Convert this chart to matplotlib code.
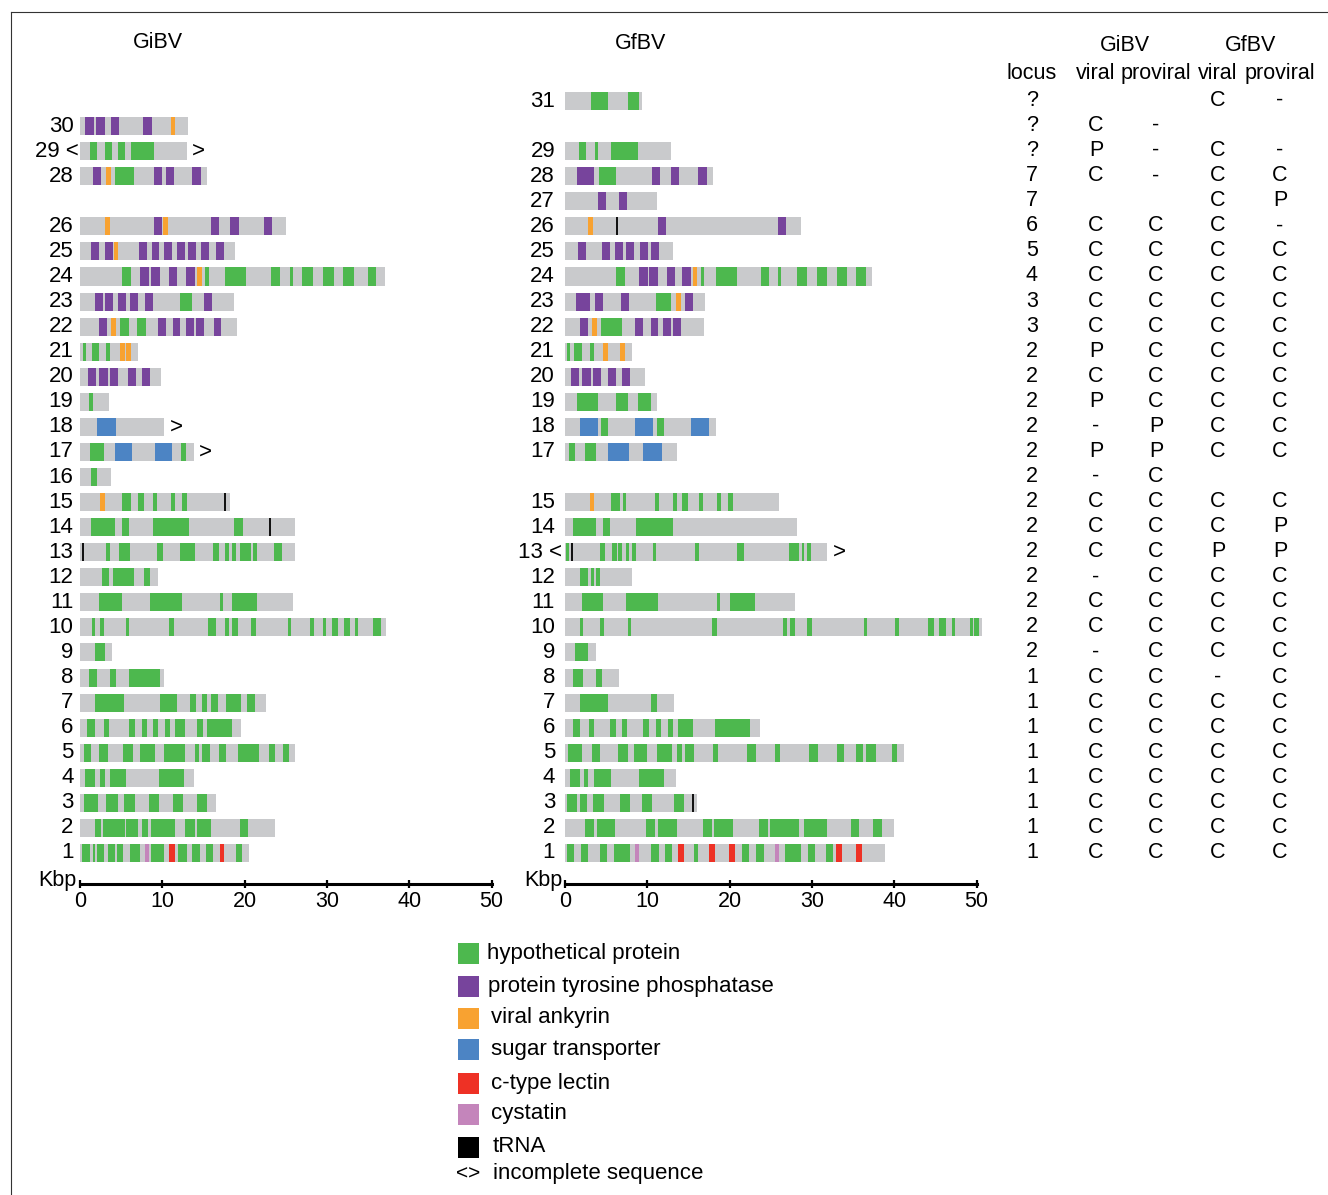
import matplotlib
matplotlib.use('Agg')
import matplotlib.pyplot as plt
from matplotlib.patches import Rectangle
import matplotlib.transforms as mtransforms

plt.rcParams['font.family'] = ['Liberation Sans', 'DejaVu Sans']

W, H = 1328, 1195
DPI = 100

# ---------------- colours / legend ----------------
GREY = '#C9CACC'
COLORS = {'H': '#4DB84E', 'P': '#77449C', 'A': '#F8A231', 'S': '#4C84C4',
          'L': '#EE3125', 'C': '#C485BB', 'T': '#000000'}
legend_codes = ['H', 'P', 'A', 'S', 'L', 'C', 'T']
legend_labels = ['hypothetical protein', 'protein tyrosine phosphatase', 'viral ankyrin',
                 'sugar transporter', 'c-type lectin', 'cystatin', 'tRNA']

# ---------------- GiBV segments (kbp) ----------------
gi_length = {30: 13.1, 29: 12.95, 28: 15.4, 26: 25.0, 25: 18.8, 24: 37.0, 23: 18.7,
             22: 19.1, 21: 7.0, 20: 9.8, 19: 3.5, 18: 10.2, 17: 13.8, 16: 3.8,
             15: 18.2, 14: 26.1, 13: 26.1, 12: 9.5, 11: 25.9, 10: 37.2, 9: 3.9,
             8: 10.2, 7: 22.6, 6: 19.6, 5: 26.1, 4: 13.85, 3: 16.5, 2: 23.7, 1: 20.5}
gi_genes = {
    30: [(0.6, 1.7, 'P'), (1.9, 3.0, 'P'), (3.8, 4.7, 'P'), (7.7, 8.7, 'P'), (11.1, 11.6, 'A')],
    29: [(1.2, 2.1, 'H'), (3.0, 3.9, 'H'), (4.6, 5.5, 'H'), (6.2, 9.0, 'H')],
    28: [(1.6, 2.6, 'P'), (3.2, 3.8, 'A'), (4.3, 6.6, 'H'), (9.0, 10.0, 'P'), (10.4, 11.4, 'P'),
         (13.6, 14.7, 'P')],
    26: [(3.0, 3.6, 'A'), (9.0, 10.0, 'P'), (10.1, 10.7, 'A'), (15.9, 16.9, 'P'), (18.2, 19.3, 'P'),
         (22.3, 23.3, 'P')],
    25: [(1.3, 2.3, 'P'), (3.0, 4.0, 'P'), (4.1, 4.6, 'A'), (7.2, 8.1, 'P'), (8.7, 9.6, 'P'),
         (10.2, 11.2, 'P'), (11.8, 12.8, 'P'), (13.1, 14.1, 'P'), (14.7, 15.7, 'P'), (16.5, 17.5, 'P')],
    24: [(5.1, 6.2, 'H'), (7.3, 8.4, 'P'), (8.6, 9.7, 'P'), (10.8, 11.8, 'P'), (12.9, 14.0, 'P'),
         (14.2, 14.8, 'A'), (15.2, 15.7, 'H'), (17.6, 20.2, 'H'), (23.2, 24.3, 'H'), (25.5, 25.9, 'H'),
         (27.0, 28.3, 'H'), (29.5, 30.9, 'H'), (31.9, 33.3, 'H'), (35.0, 36.0, 'H')],
    23: [(1.8, 2.8, 'P'), (3.0, 4.0, 'P'), (4.6, 5.6, 'P'), (6.1, 7.0, 'P'), (7.9, 8.9, 'P'),
         (12.1, 13.6, 'H'), (15.1, 16.0, 'P')],
    22: [(2.3, 3.3, 'P'), (3.8, 4.4, 'A'), (4.9, 6.0, 'H'), (6.9, 8.0, 'H'), (9.5, 10.4, 'P'),
         (11.3, 12.1, 'P'), (12.9, 13.8, 'P'), (14.1, 15.1, 'P'), (16.3, 17.1, 'P')],
    21: [(0.4, 0.7, 'H'), (1.5, 2.3, 'H'), (3.2, 3.6, 'H'), (4.9, 5.5, 'A'), (5.6, 6.2, 'A')],
    20: [(1.0, 1.9, 'P'), (2.3, 3.4, 'P'), (3.6, 4.6, 'P'), (5.8, 6.8, 'P'), (7.5, 8.5, 'P')],
    19: [(1.1, 1.6, 'H')],
    18: [(2.1, 4.4, 'S')],
    17: [(1.2, 2.9, 'H'), (4.3, 6.3, 'S'), (9.1, 11.2, 'S'), (12.3, 12.9, 'H')],
    16: [(1.3, 2.1, 'H')],
    15: [(2.4, 3.0, 'A'), (5.1, 6.2, 'H'), (7.0, 7.8, 'H'), (8.9, 9.4, 'H'), (11.1, 11.5, 'H'),
         (12.4, 13.0, 'H')],
    14: [(1.3, 4.3, 'H'), (5.1, 6.0, 'H'), (8.9, 13.2, 'H'), (18.7, 19.8, 'H')],
    13: [(3.2, 3.6, 'H'), (4.7, 6.1, 'H'), (9.4, 10.1, 'H'), (12.1, 14.0, 'H'), (16.2, 16.9, 'H'),
         (17.6, 18.1, 'H'), (18.5, 18.9, 'H'), (19.4, 20.8, 'H'), (21.0, 21.5, 'H'), (23.6, 24.5, 'H')],
    12: [(2.7, 3.5, 'H'), (4.0, 6.6, 'H'), (7.8, 8.5, 'H')],
    11: [(2.3, 5.1, 'H'), (8.5, 12.4, 'H'), (17.0, 17.4, 'H'), (18.5, 21.5, 'H')],
    10: [(1.5, 1.8, 'H'), (2.4, 2.9, 'H'), (5.6, 6.0, 'H'), (10.8, 11.4, 'H'), (15.5, 16.5, 'H'),
         (17.6, 18.1, 'H'), (18.5, 19.2, 'H'), (20.8, 21.4, 'H'), (25.3, 25.6, 'H'), (27.9, 28.4, 'H'),
         (29.5, 29.9, 'H'), (30.6, 31.3, 'H'), (32.1, 32.8, 'H'), (33.4, 33.8, 'H'), (35.6, 36.6, 'H')],
    9: [(1.8, 3.0, 'H')],
    8: [(1.1, 2.1, 'H'), (3.6, 4.4, 'H'), (6.0, 9.7, 'H')],
    7: [(1.8, 5.3, 'H'), (9.7, 11.8, 'H'), (13.4, 14.1, 'H'), (14.8, 15.4, 'H'), (15.9, 16.8, 'H'),
        (17.7, 19.6, 'H'), (20.3, 21.3, 'H')],
    6: [(0.85, 1.8, 'H'), (2.9, 3.5, 'H'), (6.0, 6.7, 'H'), (7.5, 8.1, 'H'), (8.9, 9.5, 'H'),
        (10.3, 10.9, 'H'), (11.5, 12.8, 'H'), (14.2, 14.9, 'H'), (15.4, 18.5, 'H')],
    5: [(0.5, 1.3, 'H'), (2.3, 3.4, 'H'), (5.2, 6.4, 'H'), (7.3, 9.1, 'H'), (10.2, 12.8, 'H'),
        (14.0, 14.5, 'H'), (14.8, 15.8, 'H'), (16.9, 17.7, 'H'), (19.2, 21.7, 'H'), (23.0, 23.7, 'H'),
        (24.7, 25.4, 'H')],
    4: [(0.6, 1.8, 'H'), (2.4, 3.0, 'H'), (3.6, 5.6, 'H'), (9.6, 12.6, 'H')],
    3: [(0.5, 2.2, 'H'), (3.2, 4.6, 'H'), (5.3, 6.7, 'H'), (8.4, 9.6, 'H'), (11.3, 12.5, 'H'),
        (14.2, 15.4, 'H')],
    2: [(1.8, 2.6, 'H'), (2.8, 5.5, 'H'), (5.6, 7.0, 'H'), (7.5, 8.3, 'H'), (8.6, 11.5, 'H'),
        (12.8, 14.0, 'H'), (14.2, 15.9, 'H'), (19.4, 20.4, 'H')],
    1: [(0.25, 1.2, 'H'), (1.6, 1.8, 'H'), (2.1, 2.9, 'H'), (3.4, 4.3, 'H'), (4.5, 5.2, 'H'),
        (6.1, 7.3, 'H'), (7.9, 8.4, 'C'), (8.6, 10.2, 'H'), (10.8, 11.5, 'L'), (11.9, 13.0, 'H'),
        (13.6, 14.6, 'H'), (15.3, 16.2, 'H'), (17.0, 17.5, 'L'), (18.9, 19.7, 'H')],
}
gi_trna = {15: [17.65], 14: [23.1], 13: [0.4]}
gi_incomplete_left = [29]
gi_incomplete_right = [29, 18, 17]

# ---------------- GfBV segments (kbp) ----------------
gf_length = {31: 9.4, 29: 12.9, 28: 18.0, 27: 11.2, 26: 28.7, 25: 13.1, 24: 37.3, 23: 17.0,
             22: 16.9, 21: 8.1, 20: 9.7, 19: 11.2, 18: 18.4, 17: 13.6, 15: 26.0, 14: 28.2,
             13: 31.8, 12: 8.1, 11: 27.9, 10: 50.7, 9: 3.8, 8: 6.6, 7: 13.2, 6: 23.7,
             5: 41.2, 4: 13.5, 3: 16.0, 2: 40.0, 1: 38.9}
gf_genes = {
    31: [(3.2, 5.2, 'H'), (7.7, 9.0, 'H')],
    29: [(1.7, 2.55, 'H'), (3.6, 4.0, 'H'), (5.6, 8.9, 'H')],
    28: [(1.5, 3.5, 'P'), (4.1, 6.2, 'H'), (10.6, 11.5, 'P'), (12.9, 13.8, 'P'), (16.2, 17.2, 'P')],
    27: [(4.0, 5.0, 'P'), (6.6, 7.5, 'P')],
    26: [(2.8, 3.4, 'A'), (11.3, 12.3, 'P'), (25.9, 26.8, 'P')],
    25: [(1.6, 2.55, 'P'), (4.5, 5.5, 'P'), (6.1, 7.0, 'P'), (7.4, 8.4, 'P'), (9.1, 10.1, 'P'),
         (10.4, 11.4, 'P')],
    24: [(6.2, 7.3, 'H'), (9.0, 10.1, 'P'), (10.2, 11.3, 'P'), (12.4, 13.4, 'P'), (14.2, 15.3, 'P'),
         (15.5, 16.0, 'A'), (16.5, 16.9, 'H'), (18.3, 20.9, 'H'), (23.8, 24.8, 'H'), (25.9, 26.2, 'H'),
         (28.2, 29.4, 'H'), (30.6, 31.8, 'H'), (33.0, 34.3, 'H'), (35.4, 36.6, 'H')],
    23: [(1.3, 3.0, 'P'), (3.6, 4.6, 'P'), (6.8, 7.8, 'P'), (11.1, 12.9, 'H'), (13.5, 14.1, 'A'),
         (14.6, 15.5, 'P')],
    22: [(1.8, 2.8, 'P'), (3.3, 3.9, 'A'), (4.4, 6.9, 'H'), (8.5, 9.5, 'P'), (10.4, 11.3, 'P'),
         (11.9, 12.9, 'P'), (13.1, 14.1, 'P')],
    21: [(0.25, 0.6, 'H'), (1.1, 2.1, 'H'), (3.0, 3.5, 'H'), (4.6, 5.2, 'A'), (6.7, 7.3, 'A')],
    20: [(0.7, 1.7, 'P'), (2.1, 3.2, 'P'), (3.4, 4.4, 'P'), (5.2, 6.2, 'P'), (6.9, 7.9, 'P')],
    19: [(1.5, 4.0, 'H'), (6.2, 7.7, 'H'), (8.9, 10.4, 'H')],
    18: [(1.8, 4.0, 'S'), (4.4, 5.2, 'H'), (8.5, 10.7, 'S'), (11.2, 12.0, 'H'), (15.3, 17.5, 'S')],
    17: [(0.5, 1.2, 'H'), (2.4, 3.8, 'H'), (5.2, 7.8, 'S'), (9.5, 11.8, 'S')],
    15: [(3.0, 3.5, 'A'), (5.6, 6.7, 'H'), (7.0, 7.4, 'H'), (10.9, 11.4, 'H'), (13.1, 13.6, 'H'),
         (14.2, 14.9, 'H'), (16.3, 16.8, 'H'), (18.5, 18.9, 'H'), (19.8, 20.4, 'H')],
    14: [(1.0, 3.8, 'H'), (4.6, 5.5, 'H'), (8.6, 13.1, 'H')],
    13: [(0.1, 0.5, 'H'), (4.3, 4.9, 'H'), (5.7, 6.3, 'H'), (6.4, 6.9, 'H'), (7.4, 7.8, 'H'),
         (8.1, 8.6, 'H'), (10.7, 11.1, 'H'), (15.8, 16.3, 'H'), (20.9, 21.7, 'H'), (27.2, 28.4, 'H'),
         (28.8, 29.1, 'H'), (29.4, 29.9, 'H')],
    12: [(1.8, 2.8, 'H'), (3.2, 3.5, 'H'), (3.8, 4.25, 'H')],
    11: [(2.1, 4.6, 'H'), (7.4, 11.3, 'H'), (18.5, 18.8, 'H'), (20.0, 23.1, 'H')],
    10: [(1.8, 2.2, 'H'), (4.25, 4.7, 'H'), (7.65, 8.0, 'H'), (17.9, 18.5, 'H'), (26.5, 27.0, 'H'),
         (27.3, 27.9, 'H'), (29.4, 30.0, 'H'), (36.3, 36.7, 'H'), (40.1, 40.6, 'H'), (44.1, 44.8, 'H'),
         (45.5, 46.3, 'H'), (47.0, 47.4, 'H'), (49.2, 49.6, 'H'), (49.7, 50.3, 'H')],
    9: [(1.2, 2.8, 'H')],
    8: [(1.0, 2.2, 'H'), (3.8, 4.5, 'H')],
    7: [(1.8, 5.2, 'H'), (10.4, 11.2, 'H')],
    6: [(1.0, 1.8, 'H'), (2.9, 3.5, 'H'), (5.5, 6.2, 'H'), (6.9, 7.5, 'H'), (9.5, 10.2, 'H'),
        (11.1, 11.7, 'H'), (12.5, 13.1, 'H'), (13.7, 15.5, 'H'), (18.2, 22.5, 'H')],
    5: [(0.4, 2.1, 'H'), (3.3, 4.25, 'H'), (6.4, 7.65, 'H'), (8.4, 10.0, 'H'), (11.2, 13.0, 'H'),
        (13.6, 14.2, 'H'), (14.6, 15.7, 'H'), (18.0, 18.6, 'H'), (22.1, 23.2, 'H'), (25.5, 26.1, 'H'),
        (29.6, 30.7, 'H'), (33.0, 33.9, 'H'), (35.3, 36.2, 'H'), (36.6, 37.8, 'H'), (39.7, 40.4, 'H')],
    4: [(0.6, 1.8, 'H'), (2.3, 2.8, 'H'), (3.5, 5.6, 'H'), (9.0, 12.0, 'H')],
    3: [(0.25, 1.45, 'H'), (1.8, 2.7, 'H'), (3.4, 4.7, 'H'), (6.7, 7.9, 'H'), (9.35, 10.6, 'H'),
        (13.2, 14.45, 'H')],
    2: [(2.4, 3.5, 'H'), (3.9, 6.1, 'H'), (9.8, 10.9, 'H'), (11.3, 13.6, 'H'), (16.8, 17.85, 'H'),
        (18.1, 20.4, 'H'), (23.6, 24.7, 'H'), (24.9, 28.4, 'H'), (29.0, 31.8, 'H'), (34.7, 35.7, 'H'),
        (37.4, 38.5, 'H')],
    1: [(0.25, 1.1, 'H'), (1.95, 2.8, 'H'), (4.25, 5.1, 'H'), (5.95, 7.9, 'H'), (8.5, 9.0, 'C'),
        (10.45, 11.4, 'H'), (12.15, 13.0, 'H'), (13.7, 14.45, 'L'), (15.7, 16.15, 'H'),
        (17.5, 18.2, 'L'), (19.9, 20.6, 'L'), (21.5, 22.35, 'H'), (23.2, 24.2, 'H'), (25.5, 26.0, 'C'),
        (26.7, 28.7, 'H'), (29.5, 30.4, 'H'), (31.7, 32.55, 'H'), (32.9, 33.6, 'L'), (35.3, 36.1, 'L')],
}
gf_trna = {26: [6.35], 13: [0.9], 3: [15.5]}
gf_incomplete_left = [13]
gf_incomplete_right = [13]

# ---------------- table (rows 31 -> 1) ----------------
table_rows = list(range(31, 0, -1))
locus = ['?', '?', '?', '7', '7', '6', '5', '4', '3', '3'] + ['2'] * 13 + ['1'] * 8
gi_viral = ['', 'C', 'P', 'C', '', 'C', 'C', 'C', 'C', 'C', 'P', 'C', 'P', '-', 'P', '-',
            'C', 'C', 'C', '-', 'C', 'C', '-'] + ['C'] * 8
gi_proviral = ['', '-', '-', '-', '', 'C', 'C', 'C', 'C', 'C', 'C', 'C', 'C', 'P', 'P', 'C',
               'C', 'C', 'C', 'C', 'C', 'C', 'C'] + ['C'] * 8
gf_viral = ['C', '', 'C', 'C', 'C', 'C', 'C', 'C', 'C', 'C', 'C', 'C', 'C', 'C', 'C', '',
            'C', 'C', 'P', 'C', 'C', 'C', 'C', '-'] + ['C'] * 7
gf_proviral = ['-', '', '-', 'C', 'P', '-', 'C', 'C', 'C', 'C', 'C', 'C', 'C', 'C', 'C', '',
               'C', 'P', 'P', 'C', 'C', 'C', 'C', 'C'] + ['C'] * 7
kbp_ticks = [0, 10, 20, 30, 40, 50]

# ---------------- figure ----------------
fig = plt.figure(figsize=(W / DPI, H / DPI), dpi=DPI)
fig.patch.set_facecolor('white')


def px_rect(x0, y0, x1, y1):
    return [x0 / W, 1 - y1 / H, (x1 - x0) / W, (y1 - y0) / H]


overlay = fig.add_axes([0, 0, 1, 1])
overlay.set_xlim(0, W)
overlay.set_ylim(H, 0)
overlay.axis('off')

YLIM = (-0.237, 31.6)
BAR_H = 0.72
ROW_FS = 16


def draw_panel(ax, lengths, genes, trna, inc_left, inc_right, label_off, inc_label_off):
    ax.set_xlim(0, 50)
    ax.set_ylim(*YLIM)
    ax.patch.set_alpha(0)
    for s in ['top', 'right', 'left']:
        ax.spines[s].set_visible(False)
    ax.spines['bottom'].set_linewidth(2.2)
    ax.spines['bottom'].set_bounds(0, 50)
    ax.set_yticks([])
    ax.set_xticks(kbp_ticks)
    ax.tick_params(axis='x', direction='inout', length=6, width=1.6, pad=2, labelsize=15.5)
    for seg, L in lengths.items():
        ax.barh(seg, L, left=0, height=BAR_H, color=GREY, linewidth=0, clip_on=False)
        for (s, e, t) in genes.get(seg, []):
            ax.barh(seg, e - s, left=s, height=BAR_H, color=COLORS[t], linewidth=0, clip_on=False)
        for x in trna.get(seg, []):
            ax.vlines(x, seg - BAR_H / 2, seg + BAR_H / 2, color='black', lw=1.3, clip_on=False)
        if seg in inc_left:
            ax.text(inc_label_off, seg, f'{seg} <', ha='right', va='center', fontsize=ROW_FS,
                    clip_on=False)
        else:
            ax.text(label_off, seg, f'{seg}', ha='right', va='center', fontsize=ROW_FS, clip_on=False)
        if seg in inc_right:
            ax.text(L + 0.7, seg, '>', ha='left', va='center', fontsize=ROW_FS, clip_on=False)


ax1 = fig.add_axes(px_rect(80, 86, 491.5, 884))
draw_panel(ax1, gi_length, gi_genes, gi_trna, gi_incomplete_left, gi_incomplete_right,
           -0.8, -0.2)
ax2 = fig.add_axes(px_rect(565, 86, 976.5, 884))
draw_panel(ax2, gf_length, gf_genes, gf_trna, gf_incomplete_left, gf_incomplete_right,
           -1.2, -0.35)

# axis unit labels
overlay.text(77, 886, 'Kbp', ha='right', va='baseline', fontsize=15.5)
overlay.text(562, 886, 'Kbp', ha='right', va='baseline', fontsize=15.5)

# titles
overlay.text(158, 42, 'GiBV', ha='center', va='center', fontsize=15.5)
overlay.text(641, 43, 'GfBV', ha='center', va='center', fontsize=15.5)

# table
TFS = 15.5
overlay.text(1125, 45, 'GiBV', ha='center', va='center', fontsize=TFS)
overlay.text(1251, 45, 'GfBV', ha='center', va='center', fontsize=TFS)
col_x = [1032, 1096, 1156, 1218, 1280]
col_heads = ['locus', 'viral', 'proviral', 'viral', 'proviral']
for x, h in zip(col_x, col_heads):
    overlay.text(x, 73, h, ha='center', va='center', fontsize=TFS)
trans = mtransforms.blended_transform_factory(overlay.transData, ax2.transData)
for i, r in enumerate(table_rows):
    for x, col in zip(col_x, [locus, gi_viral, gi_proviral, gf_viral, gf_proviral]):
        if col[i]:
            fig.text(x, r + 0.02, col[i], transform=trans, ha='center', va='center', fontsize=TFS)

# legend
leg_y = [953, 986, 1018, 1049, 1083, 1114, 1147]
leg_tx = [487, 488, 491, 491, 491, 491, 493]
for code, lab, y, tx in zip(legend_codes, legend_labels, leg_y, leg_tx):
    overlay.add_patch(Rectangle((458, y - 10.5), 21, 21, facecolor=COLORS[code], edgecolor='none'))
    overlay.text(tx, y, lab, ha='left', va='center', fontsize=16)
overlay.text(468, 1174, '<>', ha='center', va='center', fontsize=15)
overlay.text(493, 1174, 'incomplete sequence', ha='left', va='center', fontsize=16)

# frame lines
overlay.plot([11, W], [12, 12], color='#333333', lw=0.8)
overlay.plot([11, 11], [12, H], color='#333333', lw=0.8)

fig.savefig('out.png', dpi=DPI)
